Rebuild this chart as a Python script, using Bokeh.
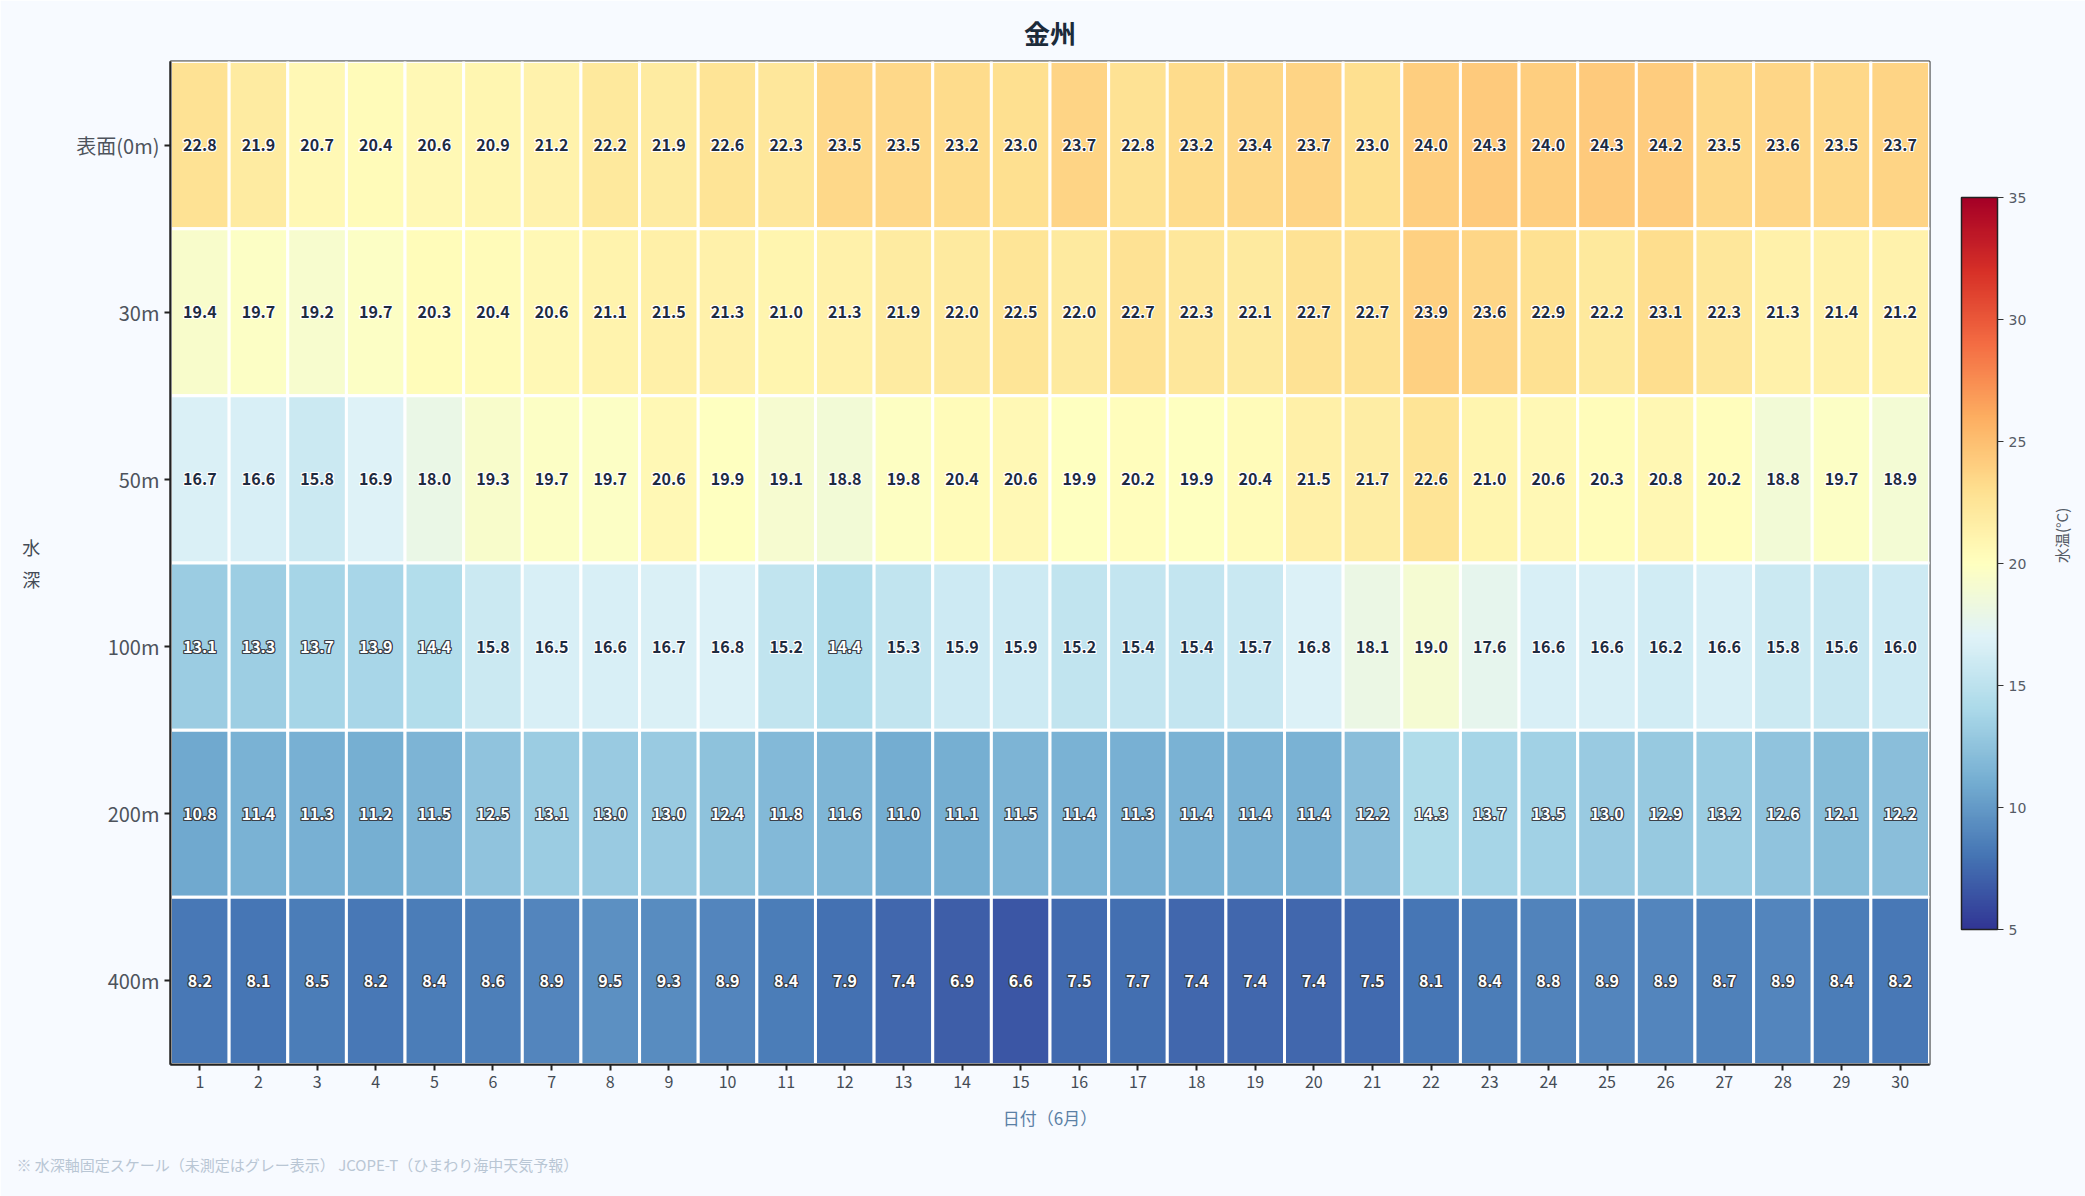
import numpy as np
from bokeh.plotting import figure
from bokeh.models import (ColumnDataSource, LinearColorMapper, ColorBar, FixedTicker,
                          FactorRange, Range1d, Title, CategoricalAxis)
from bokeh.core.properties import value
from bokeh.embed import file_html
from bokeh.resources import INLINE

# ---------------- data ----------------
days = list(range(1, 31))
depths = ["表面(0m)", "30m", "50m", "100m", "200m", "400m"]

temp_0m = [22.8, 21.9, 20.7, 20.4, 20.6, 20.9, 21.2, 22.2, 21.9, 22.6, 22.3, 23.5, 23.5, 23.2, 23.0,
           23.7, 22.8, 23.2, 23.4, 23.7, 23.0, 24.0, 24.3, 24.0, 24.3, 24.2, 23.5, 23.6, 23.5, 23.7]
temp_30m = [19.4, 19.7, 19.2, 19.7, 20.3, 20.4, 20.6, 21.1, 21.5, 21.3, 21.0, 21.3, 21.9, 22.0, 22.5,
            22.0, 22.7, 22.3, 22.1, 22.7, 22.7, 23.9, 23.6, 22.9, 22.2, 23.1, 22.3, 21.3, 21.4, 21.2]
temp_50m = [16.7, 16.6, 15.8, 16.9, 18.0, 19.3, 19.7, 19.7, 20.6, 19.9, 19.1, 18.8, 19.8, 20.4, 20.6,
            19.9, 20.2, 19.9, 20.4, 21.5, 21.7, 22.6, 21.0, 20.6, 20.3, 20.8, 20.2, 18.8, 19.7, 18.9]
temp_100m = [13.1, 13.3, 13.7, 13.9, 14.4, 15.8, 16.5, 16.6, 16.7, 16.8, 15.2, 14.4, 15.3, 15.9, 15.9,
             15.2, 15.4, 15.4, 15.7, 16.8, 18.1, 19.0, 17.6, 16.6, 16.6, 16.2, 16.6, 15.8, 15.6, 16.0]
temp_200m = [10.8, 11.4, 11.3, 11.2, 11.5, 12.5, 13.1, 13.0, 13.0, 12.4, 11.8, 11.6, 11.0, 11.1, 11.5,
             11.4, 11.3, 11.4, 11.4, 11.4, 12.2, 14.3, 13.7, 13.5, 13.0, 12.9, 13.2, 12.6, 12.1, 12.2]
temp_400m = [8.2, 8.1, 8.5, 8.2, 8.4, 8.6, 8.9, 9.5, 9.3, 8.9, 8.4, 7.9, 7.4, 6.9, 6.6,
             7.5, 7.7, 7.4, 7.4, 7.4, 7.5, 8.1, 8.4, 8.8, 8.9, 8.9, 8.7, 8.9, 8.4, 8.2]
rows = [temp_0m, temp_30m, temp_50m, temp_100m, temp_200m, temp_400m]

cbar_ticks = [5, 10, 15, 20, 25, 30, 35]
vmin, vmax = 5, 35

# ---------------- palette (RdYlBu reversed, interpolated) ----------------
base = ['#313695', '#4575b4', '#74add1', '#abd9e9', '#e0f3f8', '#ffffbf',
        '#fee090', '#fdae61', '#f46d43', '#d73027', '#a50026']
rgb = np.array([[int(c[i:i + 2], 16) for i in (1, 3, 5)] for c in base], float)
xs = np.linspace(0, 1, len(base))
palette = []
for t in np.linspace(0, 1, 256):
    palette.append('#%02x%02x%02x' % tuple(int(round(np.interp(t, xs, rgb[:, k]))) for k in range(3)))
mapper = LinearColorMapper(palette=palette, low=vmin, high=vmax)

# ---------------- table ----------------
xd, yd, tv, lab, tc, oc = [], [], [], [], [], []
for dep, vals in zip(depths, rows):
    for d, v in zip(days, vals):
        xd.append(d); yd.append(dep); tv.append(v); lab.append(f"{v:.1f}")
        if v < 15:
            tc.append("#ffffff"); oc.append("#3a3f48")
        else:
            tc.append("#1e2b40"); oc.append("#ffffff")
src = ColumnDataSource(dict(day=xd, depth=yd, temp=tv, label=lab, tc=tc, oc=oc))

BG = "#f7faff"
FONT = "Noto Sans CJK JP"

p = figure(width=2085, height=1196, output_backend="svg", toolbar_location=None,
           x_range=Range1d(0.5, 30.5), y_range=FactorRange(*depths[::-1]),
           min_border_left=170, min_border_right=156, min_border_top=60, min_border_bottom=132,
           background_fill_color=BG, border_fill_color=BG)

p.rect(x="day", y="depth", width=1, height=1, source=src,
       fill_color={"field": "temp", "transform": mapper},
       line_color="white", line_width=3)

# halo then text
for dx, dy in [(-1, 0), (1, 0), (0, -1), (0, 1), (-1, -1), (1, 1), (-1, 1), (1, -1)]:
    p.text(x="day", y="depth", text="label", source=src, x_offset=dx, y_offset=dy,
           text_color="oc", text_align="center", text_baseline="middle",
           text_font=value(FONT), text_font_style="bold", text_font_size="16px")
p.text(x="day", y="depth", text="label", source=src,
       text_color="tc", text_align="center", text_baseline="middle",
       text_font=value(FONT), text_font_style="bold", text_font_size="16px")

# title
p.title.text = "金州"
p.title.align = "center"
p.title.text_font = FONT
p.title.text_font_size = "26px"
p.title.text_font_style = "bold"
p.title.text_color = "#1c2b3a"
try:
    p.title.standoff = 22
except Exception:
    pass

# axes
p.xgrid.visible = False
p.ygrid.visible = False
p.outline_line_color = "#222222"
p.outline_line_width = 2
for ax in (p.xaxis, p.yaxis):
    ax.axis_line_color = "#222222"
    ax.axis_line_width = 2
    ax.major_tick_line_color = "#222222"
    ax.major_tick_line_width = 2
    ax.major_tick_in = 0
    ax.major_tick_out = 6
    ax.minor_tick_line_color = None
    ax.major_label_text_font = FONT
p.xaxis.ticker = FixedTicker(ticks=days)
p.xaxis.major_label_text_font_size = "16px"
p.xaxis.major_label_text_color = "#444b55"
p.xaxis.axis_label = "日付（6月）"
p.xaxis.axis_label_text_font = FONT
p.xaxis.axis_label_text_font_style = "normal"
p.xaxis.axis_label_text_font_size = "17px"
p.xaxis.axis_label_text_color = "#5b80a5"
p.xaxis.axis_label_standoff = 14
p.yaxis.major_label_text_font_size = "20px"
p.yaxis.major_label_text_color = "#4d535c"
p.yaxis.axis_label_text_font = FONT
p.yaxis.axis_label_text_font_style = "normal"
p.yaxis.axis_label_text_font_size = "18px"
p.yaxis.axis_label_text_color = "#444b55"
p.yaxis.axis_label_standoff = 33
try:
    p.yaxis.axis_label = "水\n深"
    p.yaxis.axis_label_orientation = "horizontal"
except Exception:
    p.yaxis.axis_label = "水深"

# colorbar
cb = ColorBar(color_mapper=mapper, ticker=FixedTicker(ticks=cbar_ticks),
              width=36, height=732, location="center", padding=32,
              bar_line_color="#222222", bar_line_width=1.5,
              major_tick_in=0, major_tick_out=6, major_tick_line_color="#333333",
              major_label_text_font="DejaVu Sans", major_label_text_font_size="14px",
              major_label_text_color="#555b66",
              background_fill_alpha=0, border_line_color=None)
p.add_layout(cb, "right")

# colorbar label as a bare extra axis on the right (same categorical range)
rax = CategoricalAxis(axis_line_color=None, major_tick_line_color=None, minor_tick_line_color=None,
                      major_label_text_font_size="0px", major_label_text_alpha=0,
                      major_label_standoff=0, major_tick_out=0, major_tick_in=0,
                      axis_label="水温(°C)", axis_label_standoff=0,
                      axis_label_text_font=FONT, axis_label_text_font_style="normal",
                      axis_label_text_font_size="15px", axis_label_text_color="#555b66")
try:
    rax.axis_label_orientation = float(np.pi / 2)
except Exception:
    pass
p.add_layout(rax, "right")

# footer
foot = Title(text="※ 水深軸固定スケール（未測定はグレー表示） JCOPE-T（ひまわり海中天気予報）",
             align="left", offset=-154, text_font=FONT, text_font_size="15px",
             text_font_style="normal", text_color="#b9c6d4")
try:
    foot.standoff = 38
except Exception:
    pass
p.add_layout(foot, "below")

open("out.html", "w").write(file_html(p, INLINE))
